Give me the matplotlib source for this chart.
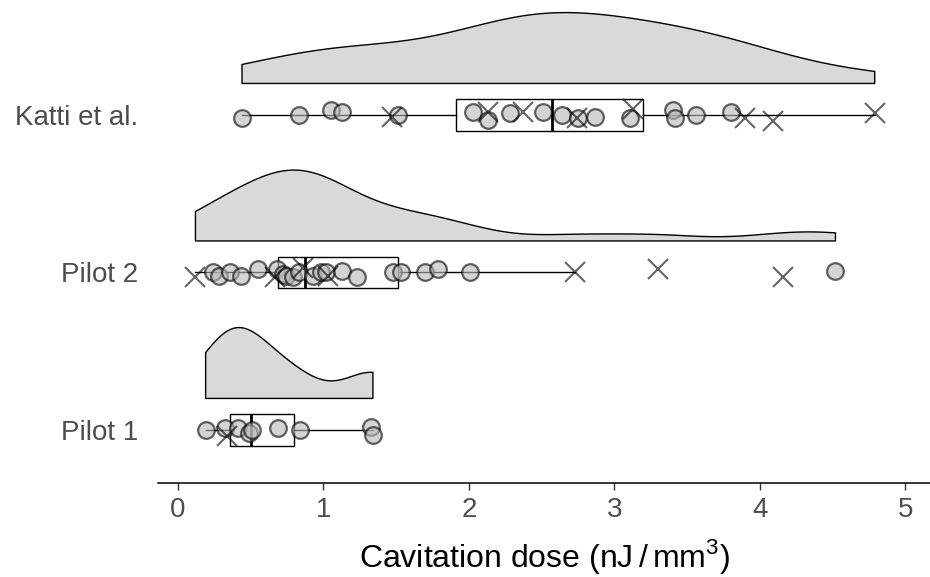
import numpy as np
import matplotlib.pyplot as plt

plt.rcParams['font.family'] = ['Liberation Sans', 'DejaVu Sans']
plt.rcParams['mathtext.fontset'] = 'custom'
plt.rcParams['mathtext.rm'] = 'Liberation Sans'

# groups, bottom to top
groups = ['Pilot 1', 'Pilot 2', 'Katti et al.']

# cavitation dose values (nJ/mm^3), circles and crosses
pilot1_circ = [0.19, 0.32, 0.41, 0.49, 0.51, 0.69, 0.84, 1.33, 1.34]
pilot1_cross = [0.34]
pilot2_circ = [0.24, 0.28, 0.36, 0.43, 0.55, 0.68, 0.72, 0.74, 0.79, 0.83,
               0.93, 0.98, 1.02, 1.13, 1.23, 1.48, 1.53, 1.70, 1.79, 2.01, 4.52]
pilot2_cross = [0.12, 0.67, 0.86, 1.03, 2.73, 3.30, 4.16]
katti_circ = [0.44, 0.83, 1.05, 1.13, 1.51, 2.03, 2.13, 2.28, 2.51, 2.64,
              2.75, 2.87, 3.11, 3.40, 3.42, 3.56, 3.80]
katti_cross = [1.47, 2.13, 2.37, 2.74, 3.13, 3.90, 4.09, 4.79]

# small vertical jitter of the points (row units, positive = downwards)
pilot1_circ_jit = [0.0, -0.01, -0.01, 0.02, 0.0, -0.01, 0.0, -0.02, 0.03]
pilot1_cross_jit = [0.04]
pilot2_circ_jit = [0.0, 0.02, 0.0, 0.02, -0.02, -0.02, 0.01, 0.02, 0.03, 0.0,
                   0.02, 0.0, 0.0, -0.01, 0.03, 0.0, 0.0, 0.0, -0.02, 0.0, -0.01]
pilot2_cross_jit = [0.03, 0.03, -0.03, 0.02, 0.0, -0.02, 0.03]
katti_circ_jit = [0.02, 0.0, -0.03, -0.02, 0.0, -0.02, 0.03, -0.01, -0.02, 0.0,
                  0.02, 0.01, 0.02, -0.03, 0.02, 0.0, -0.02]
katti_cross_jit = [0.01, -0.02, -0.02, 0.02, -0.04, 0.02, 0.04, -0.01]

# box statistics (q1, median, q3, lower whisker, upper whisker)
box_q1 = [0.36, 0.69, 1.91]
box_med = [0.50, 0.87, 2.57]
box_q3 = [0.80, 1.51, 3.20]
box_lo = [0.19, 0.12, 0.44]
box_hi = [1.34, 2.73, 4.79]

circ = [pilot1_circ, pilot2_circ, katti_circ]
cross = [pilot1_cross, pilot2_cross, katti_cross]
circ_jit = [pilot1_circ_jit, pilot2_circ_jit, katti_circ_jit]
cross_jit = [pilot1_cross_jit, pilot2_cross_jit, katti_cross_jit]


def kde(vals, grid):
    vals = np.asarray(vals)
    n = len(vals)
    iqr = np.subtract(*np.percentile(vals, [75, 25]))
    bw = 0.9 * min(vals.std(ddof=1), iqr / 1.34) * n ** -0.2
    z = (grid[:, None] - vals[None, :]) / bw
    return np.exp(-0.5 * z ** 2).sum(axis=1) / (n * bw * np.sqrt(2 * np.pi))


fig = plt.figure(figsize=(9.3, 5.77), dpi=100)
ax = fig.add_axes([158 / 930, 94 / 577, 772 / 930, 483 / 577])

for i, g in enumerate(groups):
    y0 = i + 1
    allv = np.array(circ[i] + cross[i])
    grid = np.linspace(allv.min(), allv.max(), 400)
    d = kde(allv, grid)
    d = d / d.max() * 0.45
    base = y0 + 0.2
    xs = np.concatenate([[grid[0]], grid, [grid[-1]]])
    ys = np.concatenate([[base], base + d, [base]])
    ax.fill(xs, ys, facecolor='#d9d9d9', edgecolor='black', lw=1, zorder=1)

stats = []
for i in range(3):
    stats.append(dict(q1=box_q1[i], med=box_med[i], q3=box_q3[i],
                      whislo=box_lo[i], whishi=box_hi[i], fliers=[]))
ax.bxp(stats, positions=[1, 2, 3], widths=0.2, orientation='horizontal',
       showcaps=False, showfliers=False, patch_artist=True,
       boxprops=dict(facecolor='none', edgecolor='black', lw=1),
       whiskerprops=dict(color='black', lw=1),
       medianprops=dict(color='black', lw=2),
       manage_ticks=False, zorder=2)

for i in range(3):
    y0 = i + 1
    ax.plot(circ[i], y0 - np.array(circ_jit[i]), 'o', ms=12,
            mfc='#b8b8b8', mec='black', mew=1.6, alpha=0.6, ls='none', zorder=3)
    ax.plot(cross[i], y0 - np.array(cross_jit[i]), 'x', ms=14,
            color='black', mew=1.5, alpha=0.6, ls='none', zorder=3)

ax.set_xlim(-0.1375, 5.17)
ax.set_ylim(0.663, 3.73)
ax.set_yticks([1, 2, 3])
ax.set_yticklabels(groups)
ax.set_xticks([0, 1, 2, 3, 4, 5])
for s in ['top', 'right', 'left']:
    ax.spines[s].set_visible(False)
ax.spines['bottom'].set_linewidth(1.1)
ax.tick_params(axis='y', length=0, pad=14, labelsize=20, labelcolor='#4d4d4d')
ax.tick_params(axis='x', length=5, width=1, color='#333333', pad=5,
               labelsize=20, labelcolor='#4d4d4d')
ax.set_xlabel(r'Cavitation dose $(\mathregular{nJ}\,/\,\mathregular{mm}^{3})$',
              fontsize=23, labelpad=10)

fig.savefig('out.png', dpi=100)
